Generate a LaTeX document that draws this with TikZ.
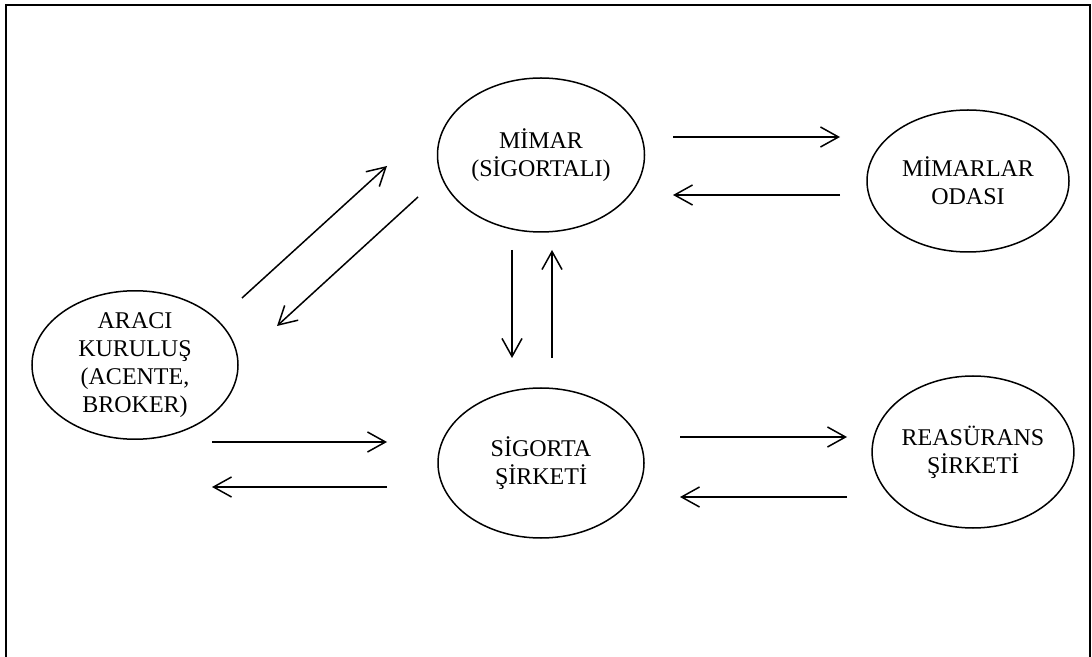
\documentclass[tikz,border=0pt]{standalone}
\usepackage{fontspec}
\setmainfont{Liberation Serif}
\usetikzlibrary{shapes.geometric,arrows.meta}

\tikzset{
  actor/.style={ellipse, draw, line width=0.75pt, inner sep=0pt, align=center,
    font=\fontsize{12}{14}\selectfont},
  flow/.style={-{Straight Barb[length=9pt,width=10pt]}, line width=0.75pt}
}

\begin{document}
\begin{tikzpicture}[x=0.5pt, y=-0.5pt]
    \useasboundingbox (0,0) rectangle (1092,657);
    \draw[line width=1pt] (6,657) -- (6,5) -- (1090,5) -- (1090,657);

    \node[actor, minimum width=103.5pt, minimum height=77pt] (mimar) at (541,155)
      {M\.IMAR\\(S\.IGORTALI)};
    \node[actor, minimum width=101pt, minimum height=71pt] (oda) at (968,181)
      {M\.IMARLAR\\ODASI};
    \node[actor, minimum width=103pt, minimum height=73pt] (araci) at (135,365)
      {ARACI\\KURULU\c{S}\\(ACENTE,\\BROKER)};
    \node[actor, minimum width=103pt, minimum height=75pt] (sirket) at (541,463)
      {S\.IGORTA\\\c{S}\.IRKET\.I};
    \node[actor, minimum width=98pt, minimum height=76pt] (reas) at (973,452)
      {REAS\"URANS\\\c{S}\.IRKET\.I};

    % arrow ends
    \foreach \n/\x/\y in {mo/673/137, om/840/195, ms/512/250, sm/552/358,
        am/242/298, ma/418/197, as/212/442, sa/387/487, sr/680/437, rs/847/497}
      \coordinate (\n) at (\x,\y);
    \foreach \n/\x/\y in {mo/840/137, om/673/195, ms/512/358, sm/552/250,
        am/387/166, ma/277/326, as/387/442, sa/212/487, sr/847/437, rs/680/497}
      \coordinate (\n-tip) at (\x,\y);

    \foreach \n in {mo,om,ms,sm,am,ma,as,sa,sr,rs}
      \draw[flow] (\n) -- (\n-tip);
  \end{tikzpicture}
\end{document}
